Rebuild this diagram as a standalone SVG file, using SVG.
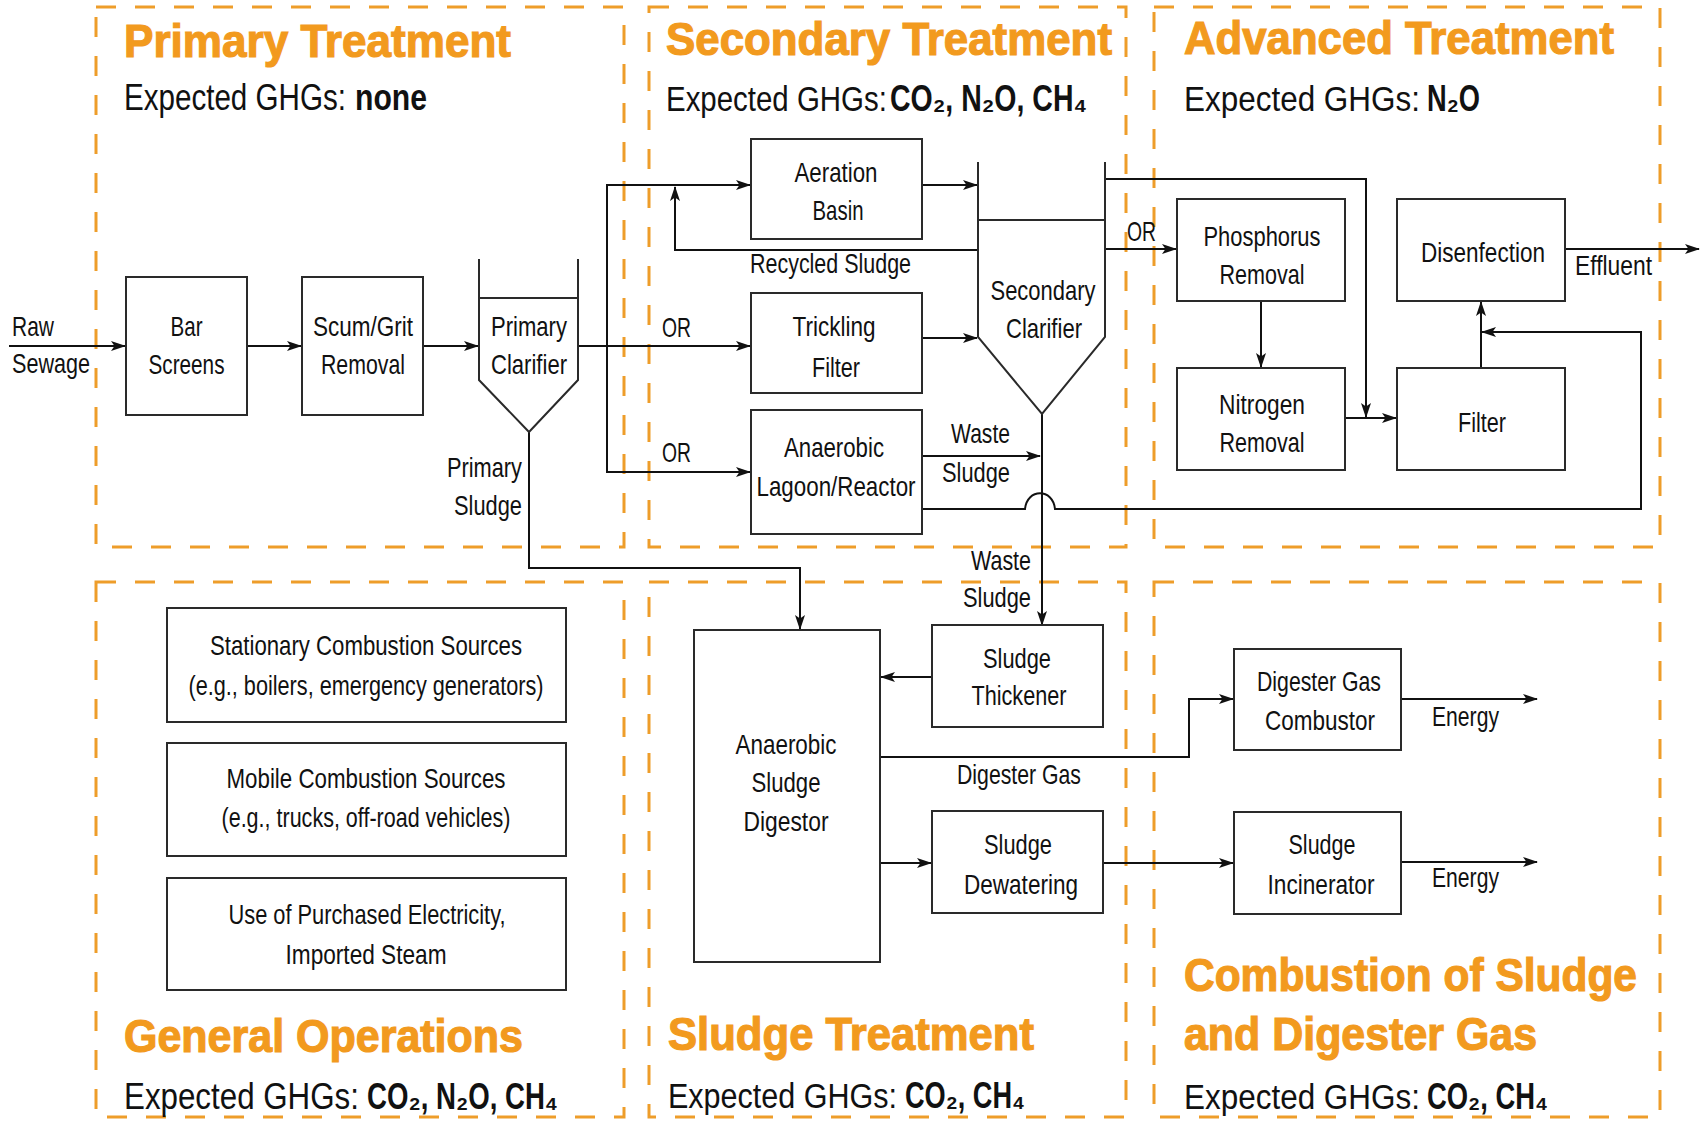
<svg xmlns="http://www.w3.org/2000/svg" width="1701" height="1123" viewBox="0 0 1701 1123">
<style>
.panel{fill:none;stroke:#EE9D2A;stroke-width:3;stroke-dasharray:20 19}
.box{fill:#fff;stroke:#2a2a2a;stroke-width:2}
.tank{fill:none;stroke:#2a2a2a;stroke-width:2}
.ln{fill:none;stroke:#111;stroke-width:2}
.arr{marker-end:url(#ah)}
.t{font-family:"Liberation Sans",Arial,sans-serif;font-size:27.5px;fill:#111}
.c{text-anchor:middle}
.e{text-anchor:end}
.ttl{font-family:"Liberation Sans",Arial,sans-serif;font-size:46px;font-weight:bold;fill:#F29A1E;stroke:#F29A1E;stroke-width:1.2px}
.ghg{font-family:"Liberation Sans",Arial,sans-serif;font-size:36px;fill:#111}
.b{font-weight:bold}
</style>
<defs>
<marker id="ah" markerWidth="15" markerHeight="11" refX="14" refY="5.5" orient="auto" markerUnits="userSpaceOnUse">
<path d="M0,0.5 L15,5.5 L0,10.5 L3.5,5.5 z" fill="#111"/>
</marker>
</defs>
<rect width="1701" height="1123" fill="#fff"/>

<g id="panels">
<rect class="panel" x="96" y="7" width="528" height="540"/>
<rect class="panel" x="649" y="7" width="477" height="540"/>
<rect class="panel" x="1154" y="7" width="506" height="540"/>
<rect class="panel" x="96" y="582" width="528" height="535"/>
<rect class="panel" x="649" y="582" width="477" height="535"/>
<rect class="panel" x="1154" y="582" width="506" height="535"/>
</g>

<g id="primary-title">
<text class="ttl" x="124" y="57" textLength="387" lengthAdjust="spacingAndGlyphs">Primary Treatment</text>
<text class="ghg" transform="matrix(0.822,0,0,1,0,0)" x="150.85" y="110">Expected GHGs:</text>
<text class="ghg b" x="355" y="110" textLength="72" lengthAdjust="spacingAndGlyphs">none</text>
</g>

<g id="secondary-title">
<text class="ttl" x="666" y="55" textLength="446" lengthAdjust="spacingAndGlyphs">Secondary Treatment</text>
<text class="ghg" transform="matrix(0.818,0,0,1,0,0)" x="814.18" y="111">Expected GHGs:</text>
<text class="ghg b" x="890" y="111" textLength="197" lengthAdjust="spacingAndGlyphs">CO₂, N₂O, CH₄</text>
</g>

<g id="advanced-title">
<text class="ttl" x="1184" y="54" textLength="430" lengthAdjust="spacingAndGlyphs">Advanced Treatment</text>
<text class="ghg" transform="matrix(0.874,0,0,1,0,0)" x="1354.69" y="111">Expected GHGs:</text>
<text class="ghg b" x="1427" y="111" textLength="53" lengthAdjust="spacingAndGlyphs">N₂O</text>
</g>

<g id="general-title">
<text class="ttl" x="124" y="1052" textLength="399" lengthAdjust="spacingAndGlyphs">General Operations</text>
<text class="ghg" transform="matrix(0.870,0,0,1,0,0)" x="142.53" y="1109">Expected GHGs:</text>
<text class="ghg b" x="367" y="1109" textLength="191" lengthAdjust="spacingAndGlyphs">CO₂, N₂O, CH₄</text>
</g>

<g id="sludge-title">
<text class="ttl" x="668" y="1050" textLength="366" lengthAdjust="spacingAndGlyphs">Sludge Treatment</text>
<text class="ghg" transform="matrix(0.848,0,0,1,0,0)" x="787.74" y="1108">Expected GHGs:</text>
<text class="ghg b" x="905" y="1108" textLength="120" lengthAdjust="spacingAndGlyphs">CO₂, CH₄</text>
</g>

<g id="combustion-title">
<text class="ttl" x="1184" y="991" textLength="453" lengthAdjust="spacingAndGlyphs">Combustion of Sludge</text>
<text class="ttl" x="1184" y="1050" textLength="353" lengthAdjust="spacingAndGlyphs">and Digester Gas</text>
<text class="ghg" transform="matrix(0.874,0,0,1,0,0)" x="1354.69" y="1109">Expected GHGs:</text>
<text class="ghg b" x="1427" y="1109" textLength="121" lengthAdjust="spacingAndGlyphs">CO₂, CH₄</text>
</g>

<g id="connectors">
<path class="ln arr" d="M9,346 H125"/>
<path class="ln arr" d="M247,346 H301"/>
<path class="ln arr" d="M423,346 H478"/>
<path class="ln arr" d="M578,346 H750"/>
<path class="ln arr" d="M607,346 V185 H750"/>
<path class="ln arr" d="M607,346 V472 H750"/>
<path class="ln arr" d="M978,250 H675 V187"/>
<path class="ln arr" d="M922,185 H977"/>
<path class="ln arr" d="M922,338 H977"/>
<path class="ln arr" d="M922,456 H1040"/>
<path class="ln arr" d="M1042,414 V625"/>
<path class="ln arr" d="M922,509 H1025 C1027,488 1053,488 1055,509 H1641 V332 H1482"/>
<path class="ln arr" d="M1105,179 H1366 V417"/>
<path class="ln arr" d="M1105,249 H1176"/>
<path class="ln arr" d="M1261,301 V367"/>
<path class="ln arr" d="M1345,418 H1396"/>
<path class="ln arr" d="M1481,368 V302"/>
<path class="ln arr" d="M1565,249 H1699"/>
<path class="ln arr" d="M529,432 V568 H800 V629"/>
<path class="ln arr" d="M932,677 H881"/>
<path class="ln arr" d="M880,757 H1189 V699 H1233"/>
<path class="ln arr" d="M880,863 H931"/>
<path class="ln arr" d="M1103,863 H1233"/>
<path class="ln arr" d="M1401,699 H1537"/>
<path class="ln arr" d="M1401,862 H1537"/>
</g>

<g id="connector-labels">
<text class="t" x="12" y="336" textLength="42" lengthAdjust="spacingAndGlyphs">Raw</text>
<text class="t" x="12" y="373" textLength="78" lengthAdjust="spacingAndGlyphs">Sewage</text>
<text class="t e" x="522" y="477" textLength="75" lengthAdjust="spacingAndGlyphs">Primary</text>
<text class="t e" x="522" y="515" textLength="68" lengthAdjust="spacingAndGlyphs">Sludge</text>
<text class="t" x="750" y="273" textLength="161" lengthAdjust="spacingAndGlyphs">Recycled Sludge</text>
<text class="t" x="662" y="337" textLength="29" lengthAdjust="spacingAndGlyphs">OR</text>
<text class="t" x="662" y="462" textLength="29" lengthAdjust="spacingAndGlyphs">OR</text>
<text class="t" x="1127" y="241" textLength="29" lengthAdjust="spacingAndGlyphs">OR</text>
<text class="t e" x="1010" y="443" textLength="59" lengthAdjust="spacingAndGlyphs">Waste</text>
<text class="t e" x="1010" y="482" textLength="68" lengthAdjust="spacingAndGlyphs">Sludge</text>
<text class="t e" x="1031" y="570" textLength="60" lengthAdjust="spacingAndGlyphs">Waste</text>
<text class="t e" x="1031" y="607" textLength="68" lengthAdjust="spacingAndGlyphs">Sludge</text>
<text class="t" x="1575" y="275" textLength="77" lengthAdjust="spacingAndGlyphs">Effluent</text>
<text class="t" x="957" y="784" textLength="124" lengthAdjust="spacingAndGlyphs">Digester Gas</text>
<text class="t" x="1432" y="726" textLength="67" lengthAdjust="spacingAndGlyphs">Energy</text>
<text class="t" x="1432" y="887" textLength="67" lengthAdjust="spacingAndGlyphs">Energy</text>
</g>

<g id="bar-screens">
<rect class="box" x="126" y="277" width="121" height="138"/>
<text class="t c" x="186.5" y="336" textLength="32" lengthAdjust="spacingAndGlyphs">Bar</text>
<text class="t c" x="186.5" y="374" textLength="76" lengthAdjust="spacingAndGlyphs">Screens</text>
</g>
<g id="scum-grit-removal">
<rect class="box" x="302" y="277" width="121" height="138"/>
<text class="t c" x="363" y="336" textLength="100" lengthAdjust="spacingAndGlyphs">Scum/Grit</text>
<text class="t c" x="363" y="374" textLength="84" lengthAdjust="spacingAndGlyphs">Removal</text>
</g>
<g id="primary-clarifier">
<path class="tank" d="M479,259 V380 L529,432 L578,380 V259 M479,298 H578"/>
<text class="t c" x="529" y="336" textLength="76" lengthAdjust="spacingAndGlyphs">Primary</text>
<text class="t c" x="529" y="374" textLength="76" lengthAdjust="spacingAndGlyphs">Clarifier</text>
</g>
<g id="aeration-basin">
<rect class="box" x="751" y="139" width="171" height="100"/>
<text class="t c" x="836" y="182" textLength="83" lengthAdjust="spacingAndGlyphs">Aeration</text>
<text class="t c" x="838" y="220" textLength="51" lengthAdjust="spacingAndGlyphs">Basin</text>
</g>
<g id="trickling-filter">
<rect class="box" x="751" y="293" width="171" height="100"/>
<text class="t c" x="834" y="336" textLength="83" lengthAdjust="spacingAndGlyphs">Trickling</text>
<text class="t c" x="836" y="377" textLength="48" lengthAdjust="spacingAndGlyphs">Filter</text>
</g>
<g id="anaerobic-lagoon">
<rect class="box" x="751" y="410" width="171" height="124"/>
<text class="t c" x="834" y="457" textLength="100" lengthAdjust="spacingAndGlyphs">Anaerobic</text>
<text class="t c" x="836" y="496" textLength="159" lengthAdjust="spacingAndGlyphs">Lagoon/Reactor</text>
</g>
<g id="secondary-clarifier">
<path class="tank" d="M978,162 V337 L1042,414 L1105,337 V162 M978,220 H1105"/>
<text class="t c" x="1043" y="300" textLength="105" lengthAdjust="spacingAndGlyphs">Secondary</text>
<text class="t c" x="1044" y="338" textLength="76" lengthAdjust="spacingAndGlyphs">Clarifier</text>
</g>
<g id="phosphorus-removal">
<rect class="box" x="1177" y="199" width="168" height="102"/>
<text class="t c" x="1262" y="246" textLength="117" lengthAdjust="spacingAndGlyphs">Phosphorus</text>
<text class="t c" x="1262" y="284" textLength="85" lengthAdjust="spacingAndGlyphs">Removal</text>
</g>
<g id="nitrogen-removal">
<rect class="box" x="1177" y="368" width="168" height="102"/>
<text class="t c" x="1262" y="414" textLength="86" lengthAdjust="spacingAndGlyphs">Nitrogen</text>
<text class="t c" x="1262" y="452" textLength="85" lengthAdjust="spacingAndGlyphs">Removal</text>
</g>
<g id="disinfection">
<rect class="box" x="1397" y="199" width="168" height="102"/>
<text class="t c" x="1483" y="262" textLength="124" lengthAdjust="spacingAndGlyphs">Disenfection</text>
</g>
<g id="filter">
<rect class="box" x="1397" y="368" width="168" height="102"/>
<text class="t c" x="1482" y="432" textLength="48" lengthAdjust="spacingAndGlyphs">Filter</text>
</g>
<g id="stationary-combustion">
<rect class="box" x="167" y="608" width="399" height="114"/>
<text class="t c" x="366" y="655" textLength="312" lengthAdjust="spacingAndGlyphs">Stationary Combustion Sources</text>
<text class="t c" x="366" y="695" textLength="355" lengthAdjust="spacingAndGlyphs">(e.g., boilers, emergency generators)</text>
</g>
<g id="mobile-combustion">
<rect class="box" x="167" y="743" width="399" height="113"/>
<text class="t c" x="366" y="788" textLength="279" lengthAdjust="spacingAndGlyphs">Mobile Combustion Sources</text>
<text class="t c" x="366" y="827" textLength="289" lengthAdjust="spacingAndGlyphs">(e.g., trucks, off-road vehicles)</text>
</g>
<g id="purchased-electricity">
<rect class="box" x="167" y="878" width="399" height="112"/>
<text class="t c" x="367" y="924" textLength="277" lengthAdjust="spacingAndGlyphs">Use of Purchased Electricity,</text>
<text class="t c" x="366" y="964" textLength="161" lengthAdjust="spacingAndGlyphs">Imported Steam</text>
</g>
<g id="anaerobic-sludge-digestor">
<rect class="box" x="694" y="630" width="186" height="332"/>
<text class="t c" x="786" y="754" textLength="101" lengthAdjust="spacingAndGlyphs">Anaerobic</text>
<text class="t c" x="786" y="792" textLength="69" lengthAdjust="spacingAndGlyphs">Sludge</text>
<text class="t c" x="786" y="831" textLength="85" lengthAdjust="spacingAndGlyphs">Digestor</text>
</g>
<g id="sludge-thickener">
<rect class="box" x="932" y="625" width="171" height="102"/>
<text class="t c" x="1017" y="668" textLength="68" lengthAdjust="spacingAndGlyphs">Sludge</text>
<text class="t c" x="1019" y="705" textLength="95" lengthAdjust="spacingAndGlyphs">Thickener</text>
</g>
<g id="sludge-dewatering">
<rect class="box" x="932" y="811" width="171" height="102"/>
<text class="t c" x="1018" y="854" textLength="68" lengthAdjust="spacingAndGlyphs">Sludge</text>
<text class="t c" x="1021" y="894" textLength="114" lengthAdjust="spacingAndGlyphs">Dewatering</text>
</g>
<g id="digester-gas-combustor">
<rect class="box" x="1234" y="649" width="167" height="101"/>
<text class="t c" x="1319" y="691" textLength="124" lengthAdjust="spacingAndGlyphs">Digester Gas</text>
<text class="t c" x="1320" y="730" textLength="110" lengthAdjust="spacingAndGlyphs">Combustor</text>
</g>
<g id="sludge-incinerator">
<rect class="box" x="1234" y="812" width="167" height="102"/>
<text class="t c" x="1322" y="854" textLength="67" lengthAdjust="spacingAndGlyphs">Sludge</text>
<text class="t c" x="1321" y="894" textLength="107" lengthAdjust="spacingAndGlyphs">Incinerator</text>
</g>
</svg>
